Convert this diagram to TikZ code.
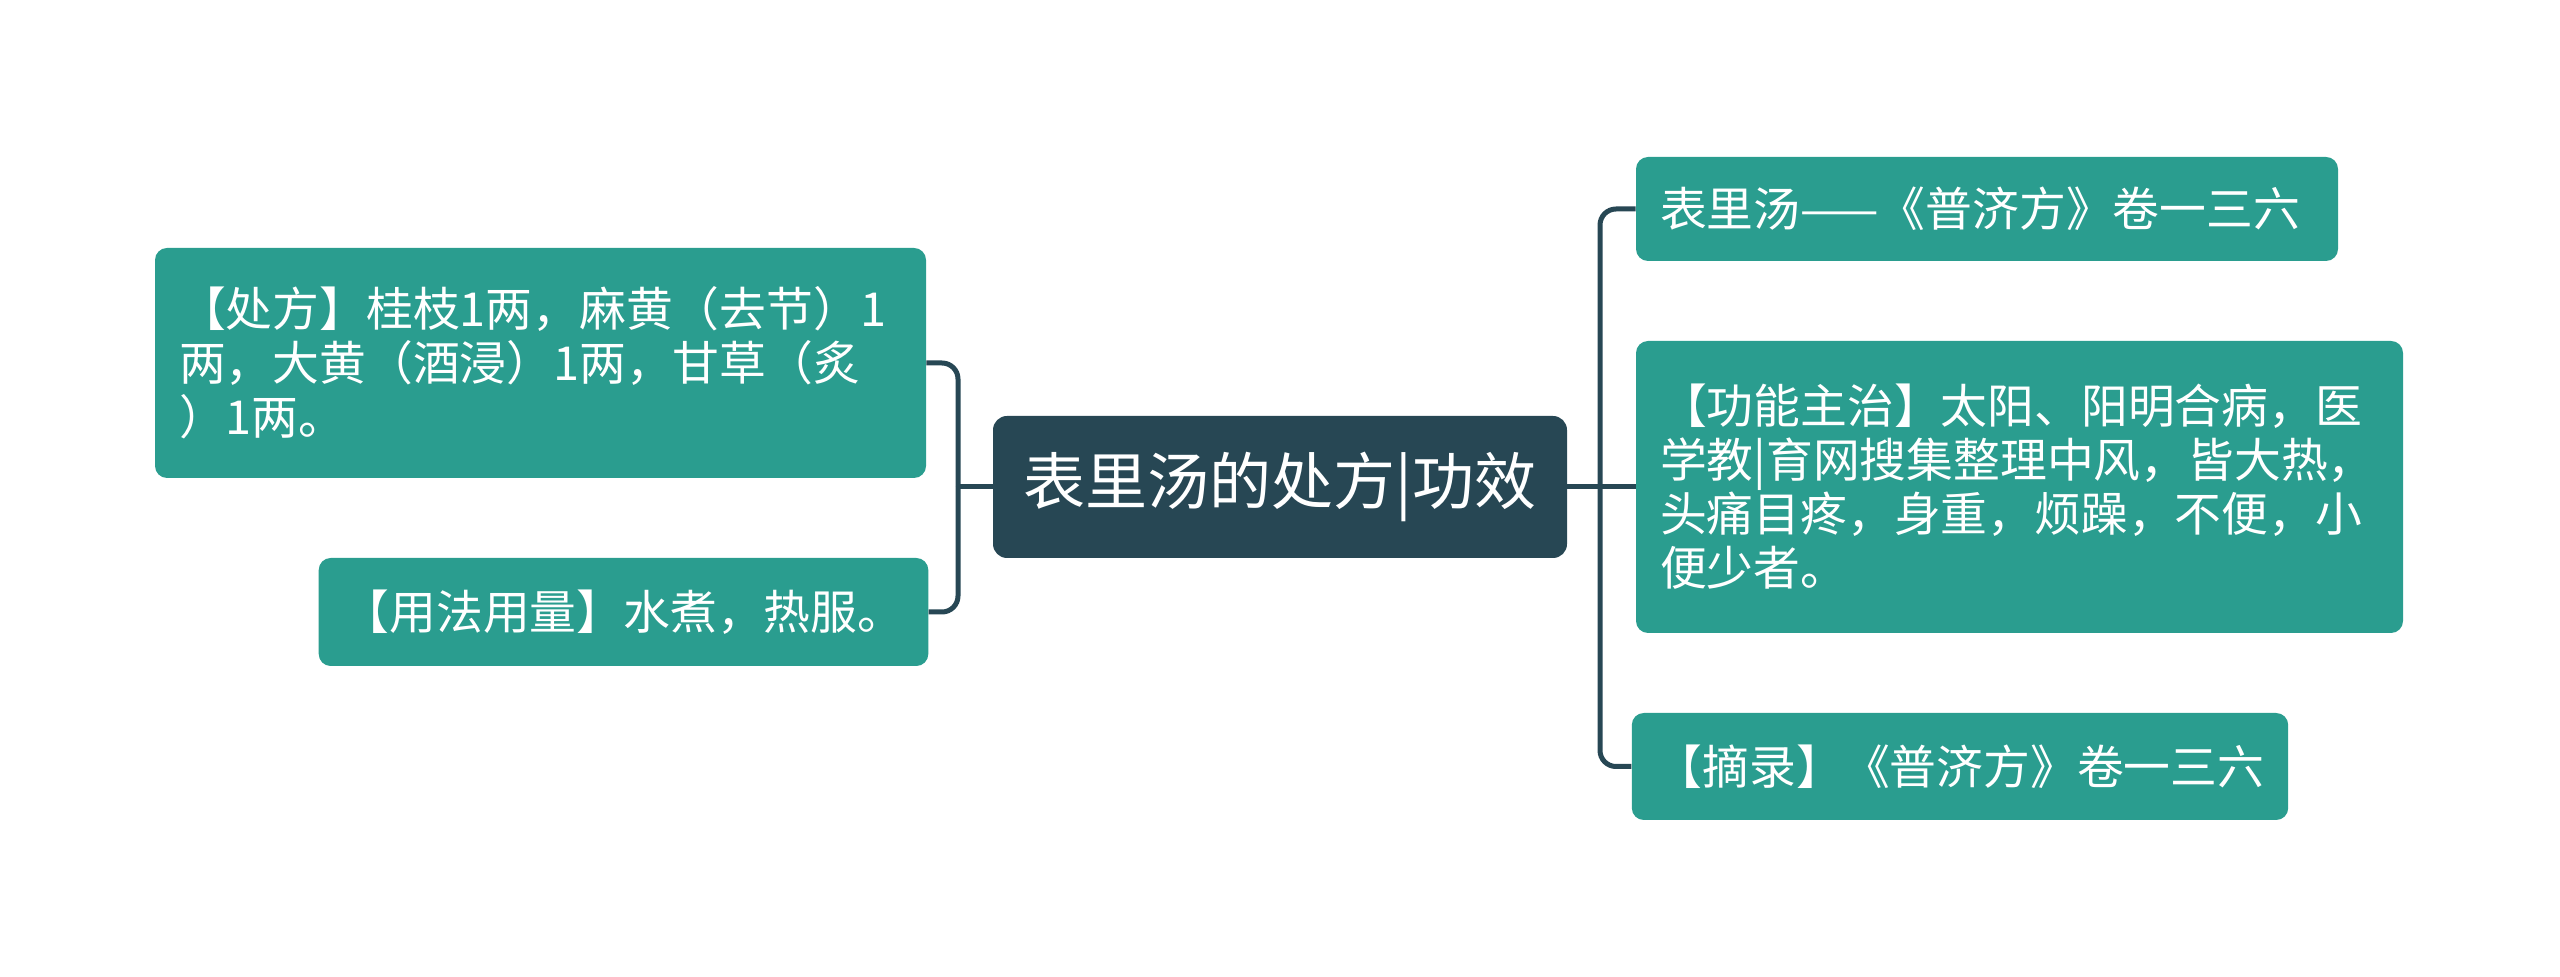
\documentclass[tikz,border=0pt]{standalone}
\usepackage{fontspec}
\setmainfont{Noto Sans CJK SC}
\usetikzlibrary{calc}
\definecolor{mapteal}{RGB}{42,157,143}
\definecolor{mapdark}{RGB}{39,71,84}
\tikzset{
  mroot/.style  = {fill=mapdark, rounded corners=7pt, text=white, inner sep=0pt,
                   font=\fontsize{31}{36}\selectfont, align=center},
  mleaf/.style  = {fill=mapteal, rounded corners=6pt, text=white, inner xsep=12pt,
                   inner ysep=0pt, font=\fontsize{23.4}{27}\selectfont, align=left},
  mlink/.style  = {draw=mapdark, line width=2.5pt, rounded corners=8pt},
  msize/.style 2 args = {minimum width=#1*0.5pt, minimum height=#2*0.5pt}, % pixels of the reference
}
\begin{document}
\begin{tikzpicture}[x=0.5pt, y=-0.5pt]
  \useasboundingbox (0,0) rectangle (2560,977);
  % root
  \node[mroot, msize={574}{142}] (root) at (1280,487) {表里汤的处方|功效};
  % left side
  \node[mleaf, msize={771}{230}, text width=361.5pt] (rx) at (540.5,363)
    {【处方】桂枝1两，麻黄（去节）1\\两，大黄（酒浸）1两，甘草（炙\\）1两。};
  \node[mleaf, msize={605}{108}] (use) at (623.5,612) {【用法用量】水煮，热服。};
  % right side
  \node[mleaf, msize={702}{104}, text width=327pt] (src) at (1987,209) {表里汤——《普济方》卷一三六};
  \node[mleaf, msize={767}{292}, text width=359.5pt] (func) at (2019.5,487)
    {【功能主治】太阳、阳明合病，医\\学教|育网搜集整理中风，皆大热，\\头痛目疼，身重，烦躁，不便，小\\便少者。};
  \node[mleaf, msize={648}{107}] (ref) at (1960,766.5) {【摘录】《普济方》卷一三六};
  % connectors
  \coordinate (lspine) at (958,487);
  \coordinate (rspine) at (1600,487);
  \draw[mlink] (root.west) -- (lspine);
  \draw[mlink] (lspine) |- (rx.east);
  \draw[mlink] (lspine) |- (use.east);
  \draw[mlink] (root.east) -- (rspine);
  \draw[mlink] (rspine) |- (src.west);
  \draw[mlink] (rspine) -- (func.west);
  \draw[mlink] (rspine) |- (ref.west);
\end{tikzpicture}
\end{document}
